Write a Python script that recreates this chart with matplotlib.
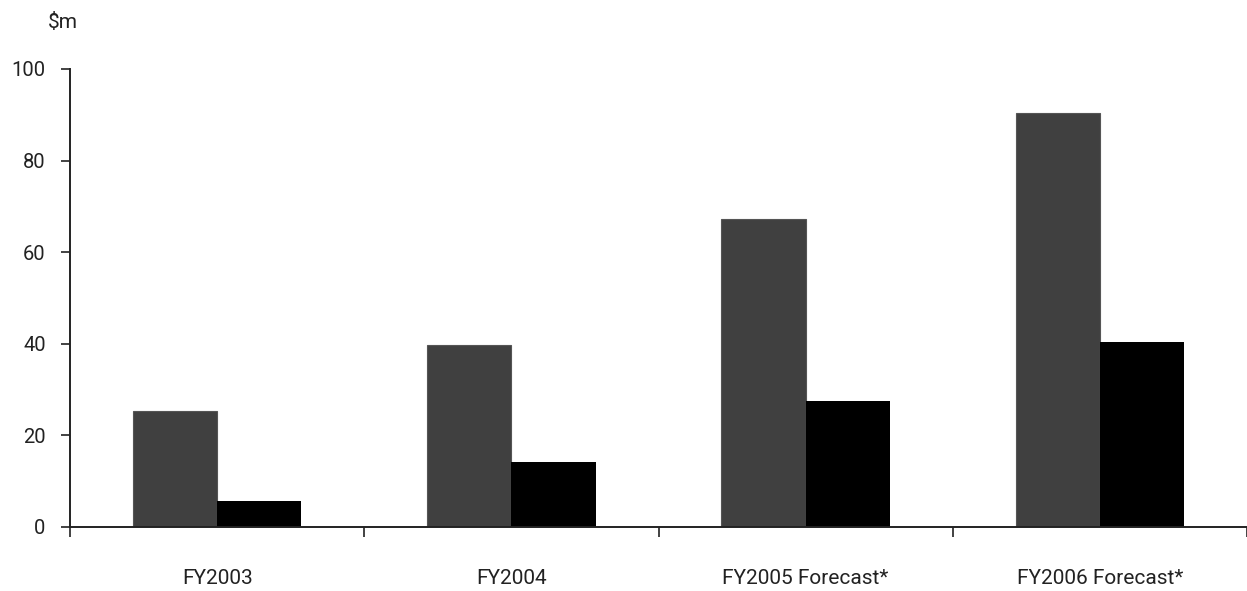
import matplotlib.pyplot as plt
import numpy as np

categories = ["FY2003", "FY2004", "FY2005 Forecast*", "FY2006 Forecast*"]
series_a = [25.3, 39.8, 67.2, 90.3]
series_b = [5.7, 14.2, 27.5, 40.4]
y_ticks = [0, 20, 40, 60, 80, 100]


def main():
    plt.rcParams["font.family"] = ["Roboto", "DejaVu Sans"]
    fig = plt.figure(figsize=(12.47, 5.91), dpi=100)
    ax = fig.add_axes([70 / 1247, 64 / 591, 1 - 70 / 1247, 458 / 591])

    x = np.arange(len(categories))
    width = 0.286
    ax.bar(x - width / 2, series_a, width, color="#404040", edgecolor="#555555",
           linewidth=0.8)
    ax.bar(x + width / 2, series_b, width, color="black", linewidth=0)

    ax.set_xlim(-0.5, len(categories) - 0.5)
    ax.set_ylim(0, 100)

    ax.set_yticks(y_ticks)
    ax.set_yticklabels([str(v) for v in y_ticks])
    ax.tick_params(axis="y", direction="out", length=6.5, width=1.2,
                   pad=11, labelsize=14.5, colors="#222222")

    ax.set_xticks(x)
    ax.set_xticklabels(categories)
    ax.tick_params(axis="x", which="major", length=0, pad=30, labelsize=15,
                   colors="#222222")
    ax.set_xticks(np.arange(len(categories) + 1) - 0.5, minor=True)
    ax.tick_params(axis="x", which="minor", direction="out", length=7,
                   width=1.2, color="#222222")

    for side in ["top", "right"]:
        ax.spines[side].set_visible(False)
    for side in ["left", "bottom"]:
        ax.spines[side].set_linewidth(1.4)
        ax.spines[side].set_color("#222222")

    fig.text(48 / 1247, 1 - 22 / 591, "$m", fontsize=15, color="#222222",
             va="center", ha="left")

    fig.savefig("out.png", dpi=100)


if __name__ == "__main__":
    main()
